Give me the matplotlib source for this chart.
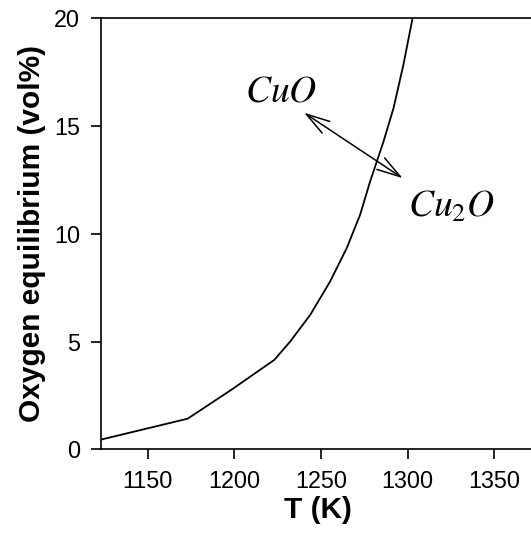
import matplotlib
matplotlib.use("Agg")
import matplotlib.pyplot as plt

# Data (temperature in K, oxygen equilibrium in vol%)
temperature = [1123.15, 1173.15, 1198.15, 1223.15, 1232.2, 1243.8, 1255.3,
               1264.9, 1272.6, 1278.4, 1286.1, 1291.9, 1297.6, 1302.9, 1308.0]
oxygen = [0.45, 1.42, 2.75, 4.15, 4.99, 6.23, 7.78,
          9.33, 10.87, 12.42, 14.27, 15.82, 17.83, 20.0, 22.2]

x_ticks = [1150, 1200, 1250, 1300, 1350]
y_ticks = [0, 5, 10, 15, 20]
x_label = "T (K)"
y_label = "Oxygen equilibrium (vol%)"
label_cuo = r"$CuO$"
label_cu2o = r"$Cu_2O$"

plt.rcParams['mathtext.fontset'] = 'stix'
plt.rcParams['font.family'] = ['Liberation Sans', 'DejaVu Sans']

fig = plt.figure(figsize=(5.31, 5.41), dpi=100)
ax = fig.add_axes([0.1902, 0.1695, 0.816, 0.7967])

ax.plot(temperature, oxygen, color='black', linewidth=1.3)

ax.set_xlim(1123.15, 1373.15)
ax.set_ylim(0, 20)
ax.set_xticks(x_ticks)
ax.set_yticks(y_ticks)

for s in ax.spines.values():
    s.set_linewidth(1.2)

ax.tick_params(direction='out', length=7, width=1.2, labelsize=16.8, pad=8)
ax.set_xlabel(x_label, fontsize=21.5, fontweight='bold', labelpad=2)
ax.set_ylabel(y_label, fontsize=21.5, fontweight='bold', labelpad=6)

ax.text(1206.0, 16.13, label_cuo, fontsize=27, ha='left', va='baseline')
ax.text(1300.5, 10.79, label_cu2o, fontsize=27, ha='left', va='baseline')

ax.annotate('', xy=(1240.3, 15.62), xytext=(1297.2, 12.58),
            arrowprops=dict(arrowstyle='<->,head_length=1.7,head_width=0.5',
                            mutation_scale=10, color='black', lw=1.1,
                            shrinkA=0, shrinkB=0))

fig.savefig('out.png', dpi=100)
